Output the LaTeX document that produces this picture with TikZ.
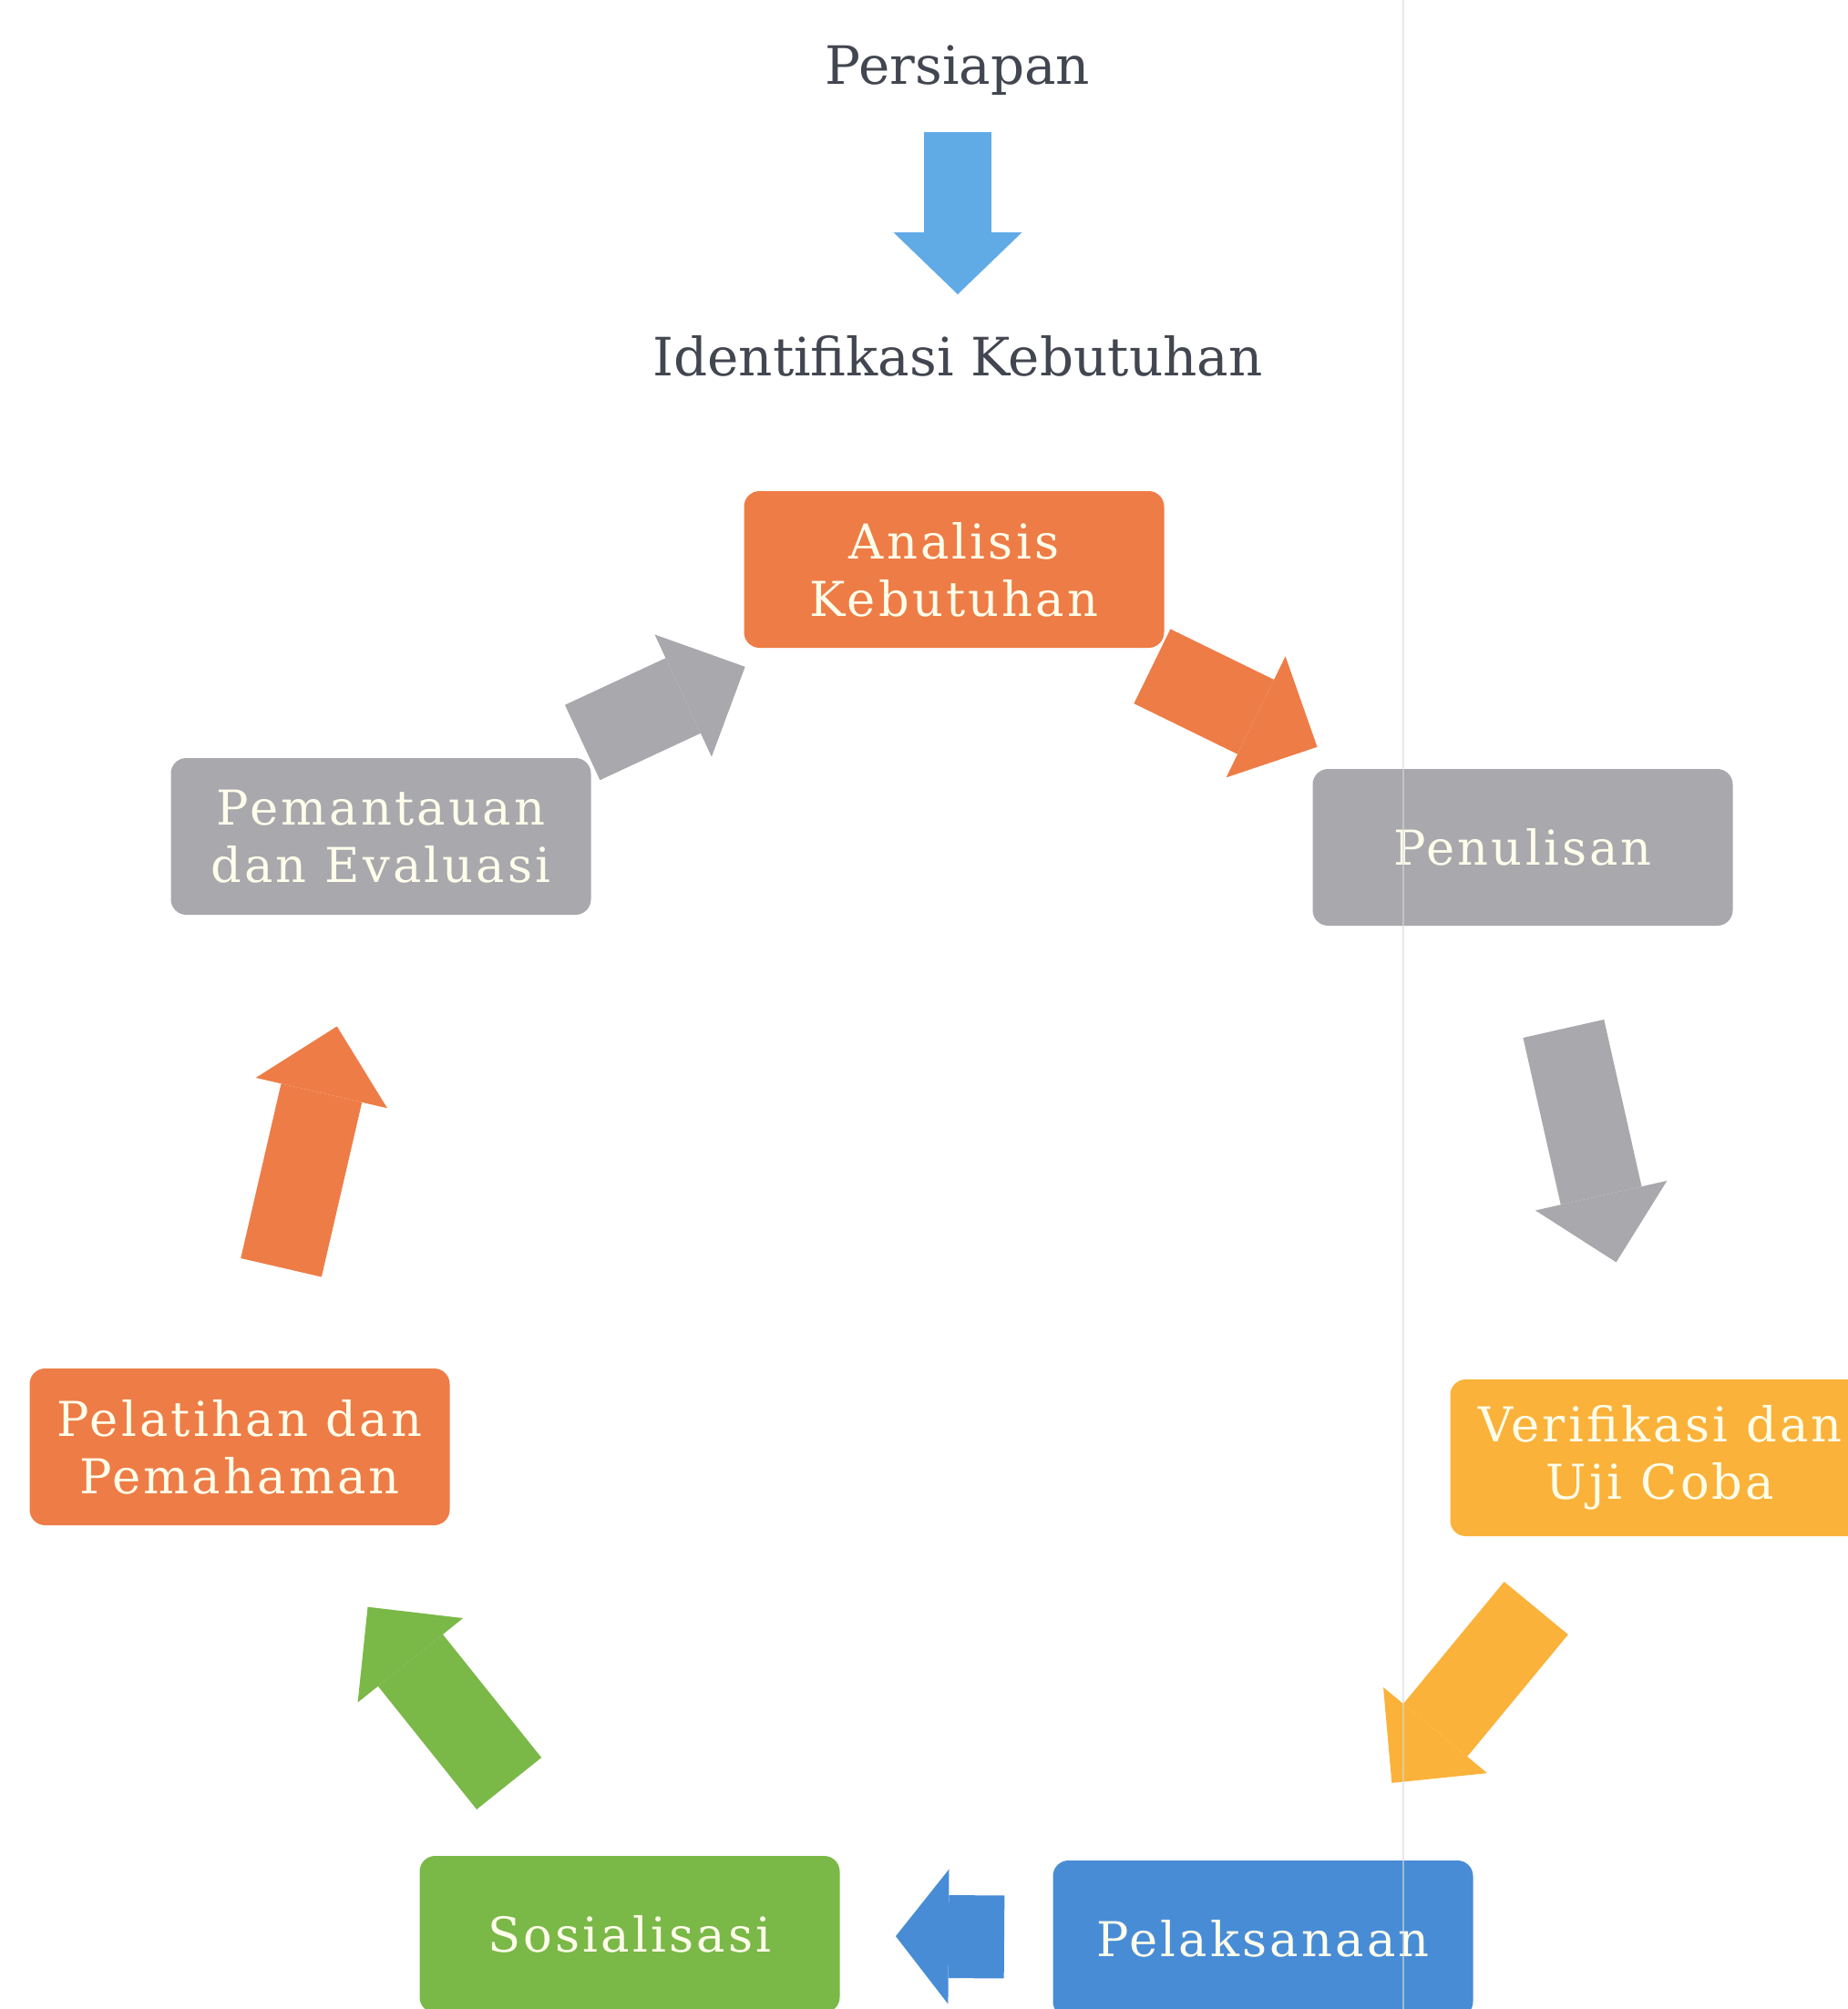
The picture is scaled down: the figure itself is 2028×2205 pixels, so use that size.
\documentclass[tikz,border=0pt]{standalone}
\usepackage{fontspec}
\setmainfont{DejaVu Serif}
\newfontfamily\boxfont[LetterSpace=6]{DejaVu Serif}
\usetikzlibrary{arrows.meta, positioning}
\definecolor{oranye}{RGB}{238,124,70}
\definecolor{abu}{RGB}{168,168,173}
\definecolor{emas}{RGB}{250,178,58}
\definecolor{hijau}{RGB}{122,184,72}
\definecolor{biru}{RGB}{72,140,214}
\definecolor{birumuda}{RGB}{96,170,230}
\definecolor{teks}{RGB}{66,70,80}
\tikzset{
    tahap/.style={rounded corners=1.7mm, minimum width=46.1mm, minimum height=17.2mm,
        align=center, inner sep=0pt, text=white!92!yellow,
        font=\boxfont\fontsize{15}{18}\selectfont},
    judul/.style={anchor=base, inner sep=0pt, text=teks,
        font=\fontsize{16.5}{20}\selectfont},
    panah/.style={line width=9.1mm,
        -{Triangle[width=14.8mm, length=7.5mm, line width=0pt]}},
    lipatan/.style={draw=gray!30, line width=0.15mm, opacity=0.6},
}

\begin{document}
\begin{tikzpicture}[x=0.1mm, y=-0.1mm]
        \useasboundingbox[fill=white] (0,0) rectangle (2028,2205);

        % Judul atas
        \node[judul] (prs) at (1051,92)  {Persiapan};
        \node[judul] (idf) at (1051,412) {Identifikasi Kebutuhan};
        \draw[panah, draw=birumuda, line width=7.4mm,
            -{Triangle[width=14.1mm, length=6.8mm, line width=0pt]},
            shorten <=5.3mm, shorten >=8.9mm] (prs.base) -- (idf.base);

        % Tahapan siklus
        \node[tahap, fill=oranye] (anl) at (1047,625)  {Analisis\\Kebutuhan};
        \node[tahap, fill=abu]    (pen) at (1671,930)  {Penulisan};
        \node[tahap, fill=emas]   (ver) at (1822,1600) {Verifikasi dan\\Uji Coba};
        \node[tahap, fill=biru]   (pel) at (1386,2128) {Pelaksanaan};
        \node[tahap, fill=hijau]  (sos) at (691,2123)  {Sosialisasi};
        \node[tahap, fill=oranye] (plt) at (263,1588)  {Pelatihan dan\\Pemahaman};
        \node[tahap, fill=abu]    (pmn) at (418,918)   {Pemantauan\\dan Evaluasi};

        % Panah antar tahap
        \draw[panah, draw=oranye, shorten <=24.2mm, shorten >=25.1mm] (anl.center) -- (pen.center);
        \draw[panah, draw=abu,    shorten <=20.4mm, shorten >=22.0mm] (pen.center) -- (ver.center);
        \draw[panah, draw=emas,   shorten <=21.4mm, shorten >=22.2mm] (ver.center) -- (pel.center);
        \draw[panah, draw=biru,   shorten <=28.4mm, shorten >=29.2mm,
            -{Triangle[width=14.8mm, length=5.8mm, line width=0pt]}] (pel.center) -- (sos.center);
        \draw[panah, draw=hijau,  shorten <=21.2mm, shorten >=22.5mm] (sos.center) -- (plt.center);
        \draw[panah, draw=oranye, shorten <=20.2mm, shorten >=21.4mm] (plt.center) -- (pmn.center);
        \draw[panah, draw=abu,    shorten <=24.4mm, shorten >=25.3mm] (pmn.center) -- (anl.center);

        \draw[lipatan] (1540,0) -- (1540,2205);
    \end{tikzpicture}
\end{document}
